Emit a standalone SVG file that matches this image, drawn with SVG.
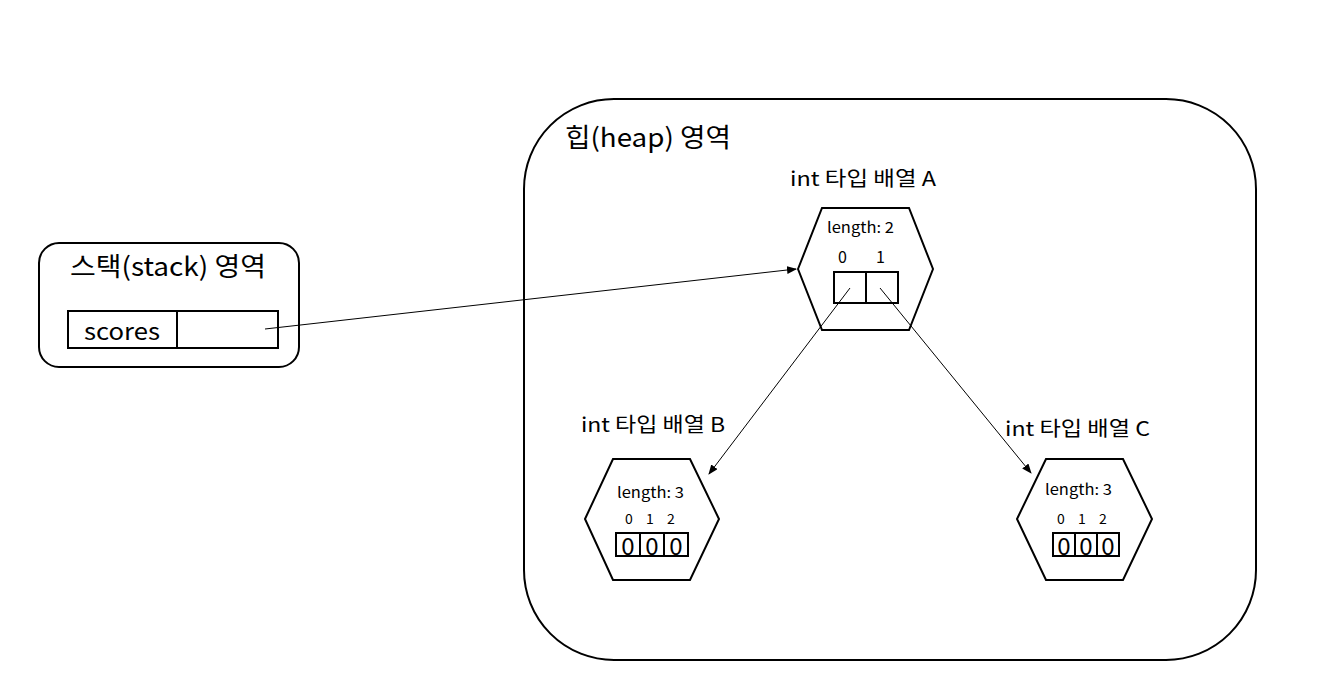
<svg xmlns="http://www.w3.org/2000/svg" width="1340" height="685" viewBox="0 0 1340 685">
<style>
.s{fill:none;stroke:#000;stroke-width:2}
.h{fill:#fff;stroke:#000;stroke-width:2}
text{font-family:"Noto Sans CJK KR","Noto Sans",sans-serif;fill:#000}
.c{stroke:#000;stroke-width:1;fill:none;marker-end:url(#a)}
</style>
<defs><marker id="a" markerWidth="10" markerHeight="8" refX="9" refY="4" orient="auto" markerUnits="userSpaceOnUse"><path d="M0,0L10,4L0,8z"/></marker></defs>
<rect width="1340" height="685" fill="#fff"/>
<g id="heap"><rect class="s" x="524" y="99" width="732" height="561" rx="90"/>
<text x="565" y="147" font-size="26" textLength="166" lengthAdjust="spacingAndGlyphs">힙(heap) 영역</text></g>
<g id="stack"><rect class="s" x="39" y="243" width="260" height="124" rx="20"/>
<text x="70" y="276" font-size="26" textLength="196" lengthAdjust="spacingAndGlyphs">스택(stack) 영역</text>
<rect class="s" x="68" y="311" width="210" height="37"/><line class="s" x1="177" y1="311" x2="177" y2="348"/>
<text x="84" y="340" font-size="23" textLength="76" lengthAdjust="spacingAndGlyphs">scores</text></g>
<g id="arrA"><text x="790" y="186" font-size="20" textLength="146" lengthAdjust="spacingAndGlyphs">int 타입 배열 A</text>
<polygon class="h" points="798,269 822,208 909,208 933,269 909,330 822,330"/>
<text x="827" y="233" font-size="15" textLength="67" lengthAdjust="spacingAndGlyphs">length: 2</text>
<text x="838" y="263" font-size="16">0</text><text x="876" y="263" font-size="16">1</text>
<rect class="s" x="834" y="272" width="64" height="31"/><line class="s" x1="866" y1="272" x2="866" y2="303"/></g>
<g id="arrB"><text x="581" y="432" font-size="20" textLength="144" lengthAdjust="spacingAndGlyphs">int 타입 배열 B</text>
<polygon class="h" points="585,519 613,459 690,459 719,519 690,580 613,580"/>
<text x="617" y="498" font-size="15" textLength="67" lengthAdjust="spacingAndGlyphs">length: 3</text>
<text x="625" y="524" font-size="14">0</text><text x="646" y="524" font-size="14">1</text><text x="667" y="524" font-size="14">2</text>
<rect class="s" x="616" y="533" width="72" height="23"/><line class="s" x1="640" y1="533" x2="640" y2="556"/><line class="s" x1="664" y1="533" x2="664" y2="556"/>
<text x="628" y="555" font-size="24" text-anchor="middle">0</text><text x="652" y="555" font-size="24" text-anchor="middle">0</text><text x="676" y="555" font-size="24" text-anchor="middle">0</text></g>
<g id="arrC"><text x="1005" y="436" font-size="20" textLength="145" lengthAdjust="spacingAndGlyphs">int 타입 배열 C</text>
<polygon class="h" points="1017,519 1046,459 1123,459 1152,519 1123,580 1046,580"/>
<text x="1045" y="495" font-size="15" textLength="67" lengthAdjust="spacingAndGlyphs">length: 3</text>
<text x="1057" y="524" font-size="14">0</text><text x="1078" y="524" font-size="14">1</text><text x="1099" y="524" font-size="14">2</text>
<rect class="s" x="1053" y="533" width="66" height="23"/><line class="s" x1="1075" y1="533" x2="1075" y2="556"/><line class="s" x1="1097" y1="533" x2="1097" y2="556"/>
<text x="1064" y="555" font-size="24" text-anchor="middle">0</text><text x="1086" y="555" font-size="24" text-anchor="middle">0</text><text x="1108" y="555" font-size="24" text-anchor="middle">0</text></g>
<g id="connectors">
<line class="c" x1="265" y1="329" x2="796" y2="269"/>
<line class="c" x1="850" y1="288" x2="709" y2="474"/>
<line class="c" x1="880" y1="288" x2="1031" y2="473"/>
</g>
</svg>
